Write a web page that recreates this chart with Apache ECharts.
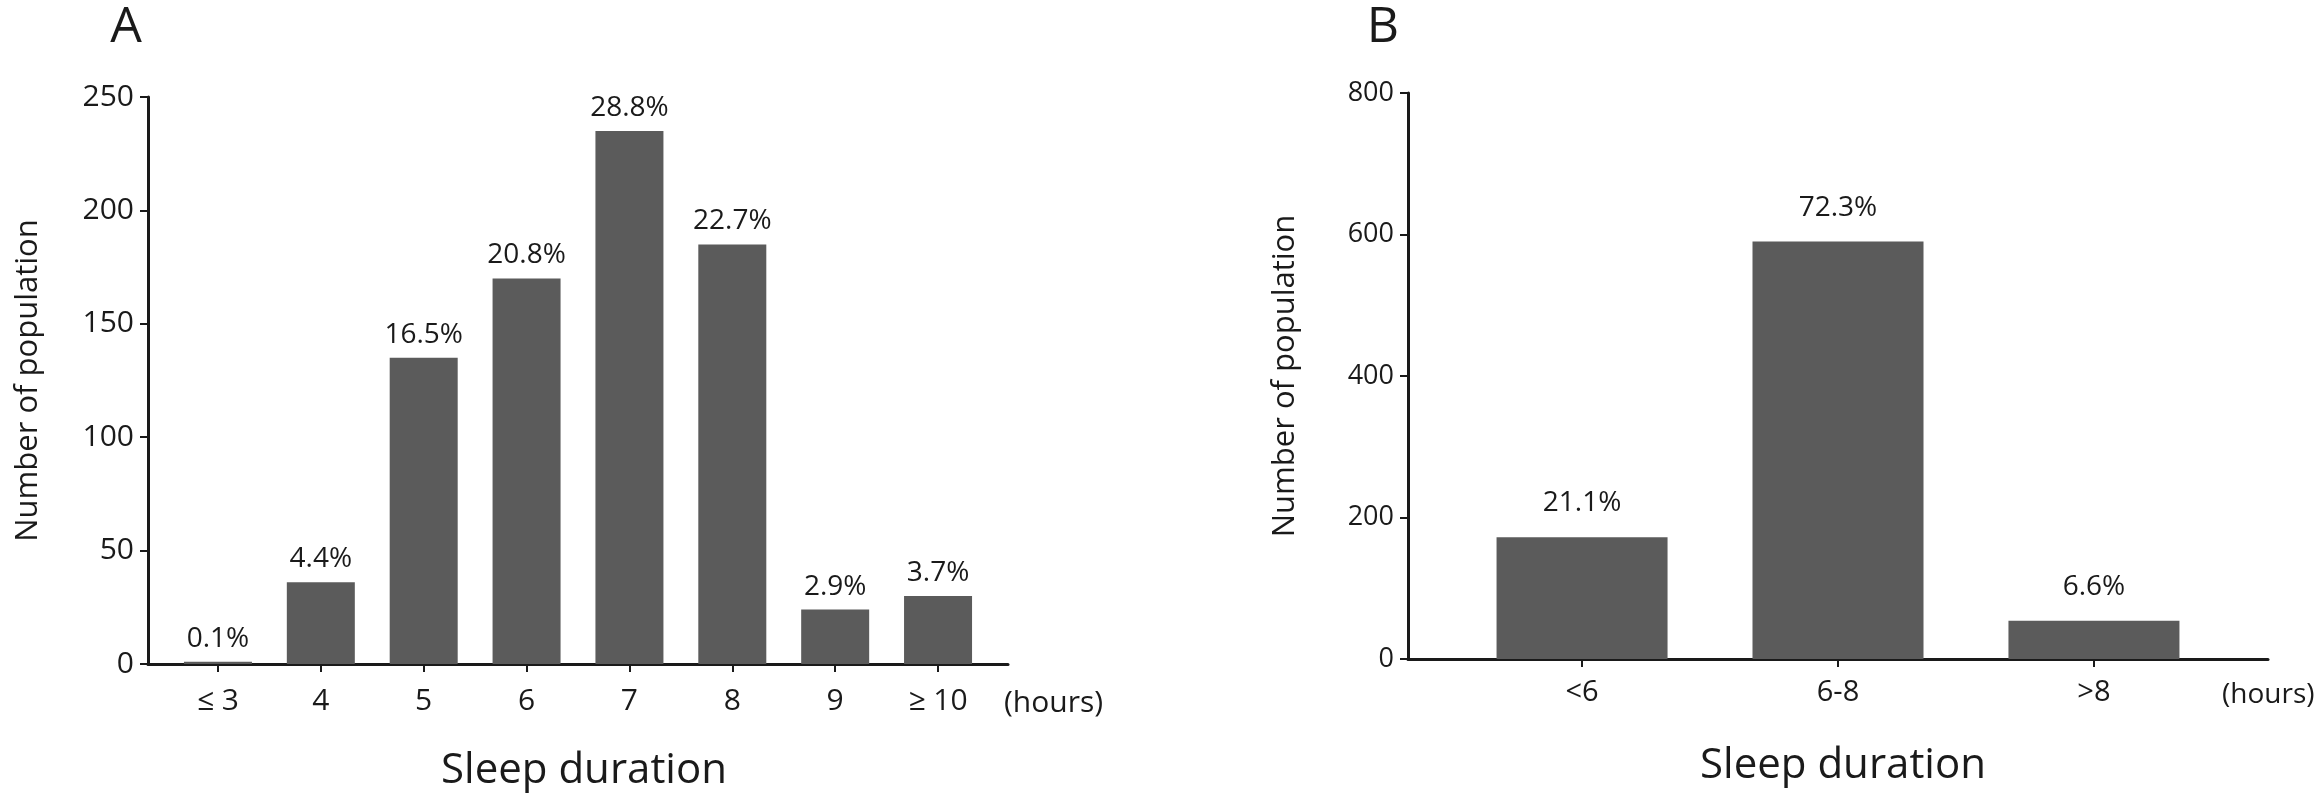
<!DOCTYPE html>
<html>
<head>
<meta charset="utf-8">
<script src="https://cdn.jsdelivr.net/npm/echarts@6/dist/echarts.min.js"></script>
<style>
  html, body { margin: 0; padding: 0; background: #fff; }
  #main { width: 2323px; height: 801px; }
</style>
</head>
<body>
<div id="main"></div>
<script>
// panel A: single hours
const catsA = ['≤ 3', '4', '5', '6', '7', '8', '9', '≥ 10'];
const countsA = [1, 36, 135, 170, 235, 185, 24, 30];
const pctA = ['0.1%', '4.4%', '16.5%', '20.8%', '28.8%', '22.7%', '2.9%', '3.7%'];
const ticksA = [0, 50, 100, 150, 200, 250];

// panel B: grouped
const catsB = ['<6', '6-8', '>8'];
const countsB = [172, 590, 54];
const pctB = ['21.1%', '72.3%', '6.6%'];
const ticksB = [0, 200, 400, 600, 800];

const FONT = 'Open Sans';
const INK = '#1a1a1a';
const BAR = '#5b5b5b';

window.addEventListener('load', function () {
    let chart = echarts.init(document.getElementById('main'));

    function idx(arr) {
        return arr.map(function (_, i) { return i; });
    }

    function xAxisFor(gridIndex, cats, labelSize, labelMargin, hoursGap, hoursDrop, hoursSize) {
        return {
            type: 'value',
            gridIndex: gridIndex,
            min: -0.68,
            max: cats.length - 1 + 0.68,
            name: '(hours)',
            nameLocation: 'end',
            nameGap: hoursGap,
            // push the unit down to the tick-label row
            nameTextStyle: {
                fontFamily: FONT, fontSize: hoursSize, color: INK,
                verticalAlign: 'top', lineHeight: hoursDrop * 2
            },
            axisLine: { show: true, onZero: false, lineStyle: { color: INK, width: 3 } },
            axisTick: { show: true, length: 8, lineStyle: { color: INK, width: 2 }, customValues: idx(cats) },
            axisLabel: {
                customValues: idx(cats),
                margin: labelMargin,
                fontFamily: FONT,
                fontSize: labelSize,
                color: INK,
                formatter: function (v) { return cats[Math.round(v)]; }
            },
            splitLine: { show: false }
        };
    }

    function yAxisFor(gridIndex, ticks, labelSize, nameGap) {
        return {
            type: 'value',
            gridIndex: gridIndex,
            min: ticks[0],
            max: ticks[ticks.length - 1],
            interval: ticks[1] - ticks[0],
            name: 'Number of population',
            nameLocation: 'middle',
            nameRotate: 90,
            nameGap: nameGap,
            nameTextStyle: { fontFamily: FONT, fontSize: 31, color: INK },
            axisLine: { show: true, onZero: false, lineStyle: { color: INK, width: 3 } },
            axisTick: { show: true, length: 8, lineStyle: { color: INK, width: 2 } },
            axisLabel: { margin: 14, fontFamily: FONT, fontSize: labelSize, color: INK },
            splitLine: { show: false }
        };
    }

    function barsFor(axisIndex, counts, pcts, width, labelSize, dist) {
        return {
            type: 'bar',
            xAxisIndex: axisIndex,
            yAxisIndex: axisIndex,
            barWidth: width,
            itemStyle: { color: BAR },
            label: {
                show: true,
                position: 'top',
                distance: dist,
                fontFamily: FONT,
                fontSize: labelSize,
                color: INK,
                formatter: function (p) { return pcts[p.dataIndex]; }
            },
            data: counts.map(function (v, i) { return [i, v]; })
        };
    }

    let option = {
        backgroundColor: '#fff',
        animation: false,
        title: [
            { text: 'A', left: 126, top: 3, textAlign: 'center', padding: 0,
              textStyle: { fontFamily: FONT, fontSize: 50, fontWeight: 'normal', color: INK } },
            { text: 'B', left: 1383, top: 3, textAlign: 'center', padding: 0,
              textStyle: { fontFamily: FONT, fontSize: 50, fontWeight: 'normal', color: INK } },
            { text: 'Sleep duration', left: 584, top: 750, textAlign: 'center', padding: 0,
              textStyle: { fontFamily: FONT, fontSize: 42, fontWeight: 'normal', color: INK } },
            { text: 'Sleep duration', left: 1843, top: 745, textAlign: 'center', padding: 0,
              textStyle: { fontFamily: FONT, fontSize: 42, fontWeight: 'normal', color: INK } }
        ],
        grid: [
            { left: 148, top: 97, width: 860, height: 567 },
            { left: 1408, top: 93, width: 860, height: 566 }
        ],
        xAxis: [
            xAxisFor(0, catsA, 30, 22, -4, 39, 30),
            xAxisFor(1, catsB, 29, 19, -46, 36, 28)
        ],
        yAxis: [
            yAxisFor(0, ticksA, 30, 104),
            yAxisFor(1, ticksB, 27, 107)
        ],
        series: [
            barsFor(0, countsA, pctA, 68, 28, 9),
            barsFor(1, countsB, pctB, 171, 28, 20)
        ]
    };
    chart.setOption(option);
}, false);
</script>
</body>
</html>
